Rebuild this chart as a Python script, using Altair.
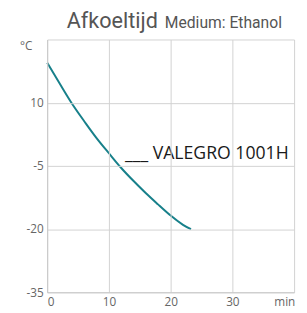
import altair as alt
import pandas as pd

# Cooling curve
minutes = [0, 2, 4, 6, 8, 10, 12, 14, 16, 18, 20, 22, 23.3]
temps = [19.5, 14.6, 9.8, 5.6, 1.6, -2.0, -5.5, -8.6, -11.5, -14.2, -16.8, -19.0, -20.0]

x_ticks = [0, 10, 20, 30, 40]
y_ticks = [-35, -20, -5, 10, 25]
series_label = "___ VALEGRO 1001H"
title_main = "Afkoeltijd"
title_sub = "Medium: Ethanol"

df = pd.DataFrame({"t": minutes, "T": temps})
lab = pd.DataFrame({"t": [12.6], "T": [-3.3], "txt": [series_label]})
ttl = pd.DataFrame({"txt": [title_main]})
sub = pd.DataFrame({"txt": [title_sub]})

xs = alt.Scale(domain=[0, 40], nice=False)
ys = alt.Scale(domain=[-35, 25], nice=False)

common_axis = dict(grid=True, gridColor="#d2d2d2", gridWidth=1, gridOpacity=1, zindex=1,
                   domainColor="#c8c8c8", ticks=False, labelFont="Open Sans",
                   labelFontSize=12, labelColor="#666", labelPadding=4, titleAngle=0,
                   titleAlign="center", titleBaseline="middle", titleFontWeight="normal",
                   titleFontSize=12, titleColor="#666", titleFont="Open Sans")
x_axis = alt.Axis(values=x_ticks, title="min", titleX=242, titleY=9,
                  labelExpr="datum.value == 40 ? '' : '' + datum.value", **common_axis)
y_axis = alt.Axis(values=y_ticks, title="°C", titleX=-22, titleY=6,
                  labelExpr="datum.value == 25 ? '' : '' + datum.value", **common_axis)

line = alt.Chart(df).mark_line(color="#17808a", strokeWidth=2, interpolate="natural").encode(
    x=alt.X("t:Q", scale=xs, axis=x_axis),
    y=alt.Y("T:Q", scale=ys, axis=y_axis),
)

label = alt.Chart(lab).mark_text(align="left", baseline="alphabetic", fontSize=18,
                                 font="Open Sans", color="#1a1a1a").encode(
    x=alt.X("t:Q", scale=xs), y=alt.Y("T:Q", scale=ys), text="txt:N")

title = alt.Chart(ttl).mark_text(align="left", baseline="alphabetic", fontSize=22,
                                 font="Roboto", color="#555").encode(
    x=alt.value(20), y=alt.value(-12), text="txt:N")

subtitle = alt.Chart(sub).mark_text(align="left", baseline="alphabetic", fontSize=16,
                                    font="Roboto", color="#555").encode(
    x=alt.value(120), y=alt.value(-12), text="txt:N")

chart = alt.layer(line, label, title, subtitle).properties(
    width=252, height=258,
    autosize=alt.AutoSizeParams(type="none"),
    padding={"left": 40, "top": 29, "right": 5, "bottom": 18},
).configure_view(stroke=None)

chart.save("out.html", embed_options={"renderer": "svg", "actions": False})
